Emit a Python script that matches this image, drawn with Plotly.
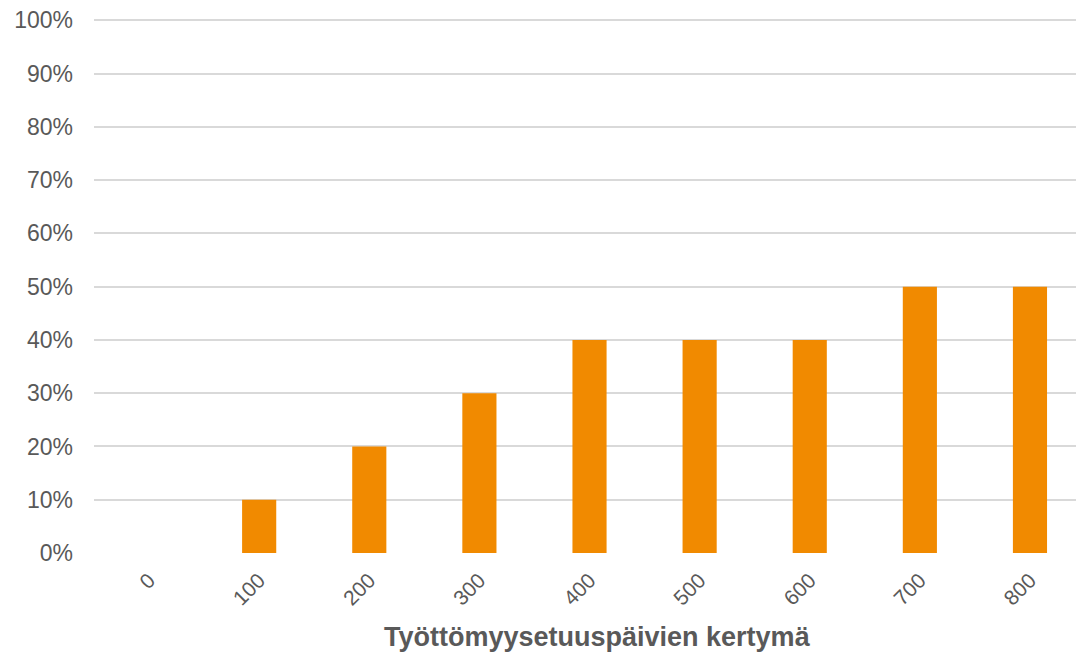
import plotly.graph_objects as go

categories = ["0", "100", "200", "300", "400", "500", "600", "700", "800"]
values = [0, 10, 20, 30, 40, 40, 40, 50, 50]
y_ticks = list(range(0, 101, 10))
y_tick_labels = [f"{v}%" for v in y_ticks]
x_title = "Työttömyysetuuspäivien kertymä"

fig = go.Figure(
    go.Bar(
        x=list(range(len(categories))),
        y=values,
        marker=dict(color="#F18A00", line=dict(width=0)),
        width=0.31,
    )
)

fig.update_layout(
    width=1076,
    height=655,
    margin=dict(l=94, r=0, t=19, b=102, autoexpand=False),
    paper_bgcolor="white",
    plot_bgcolor="white",
    showlegend=False,
    font=dict(family="Liberation Sans, Arial, sans-serif", color="#595959"),
    xaxis=dict(
        tickmode="array",
        tickvals=list(range(len(categories))),
        ticktext=categories,
        range=[-0.5, 8.418],
        tickangle=-45,
        tickfont=dict(size=21, color="#595959"),
        showgrid=False,
        zeroline=False,
        showline=False,
        ticks="",
        automargin=False,
        ticklabelstandoff=10,
    ),
    yaxis=dict(
        range=[0, 100.25],
        tickmode="array",
        tickvals=y_ticks,
        ticktext=y_tick_labels,
        tickfont=dict(size=23, color="#595959"),
        showgrid=True,
        gridcolor="#D9D9D9",
        gridwidth=1.5,
        zeroline=False,
        showline=False,
        ticks="",
        automargin=False,
        ticklabelstandoff=20,
    ),
    annotations=[
        dict(
            text=f"<b>{x_title}</b>",
            xref="paper",
            yref="paper",
            x=0.513,
            y=-0.158,
            xanchor="center",
            yanchor="middle",
            showarrow=False,
            font=dict(size=27, color="#595959"),
        )
    ],
)

fig.write_html(
    "out.html",
    config={"displayModeBar": False},
    post_script="document.body.style.margin='0';document.body.style.overflow='hidden';",
)
